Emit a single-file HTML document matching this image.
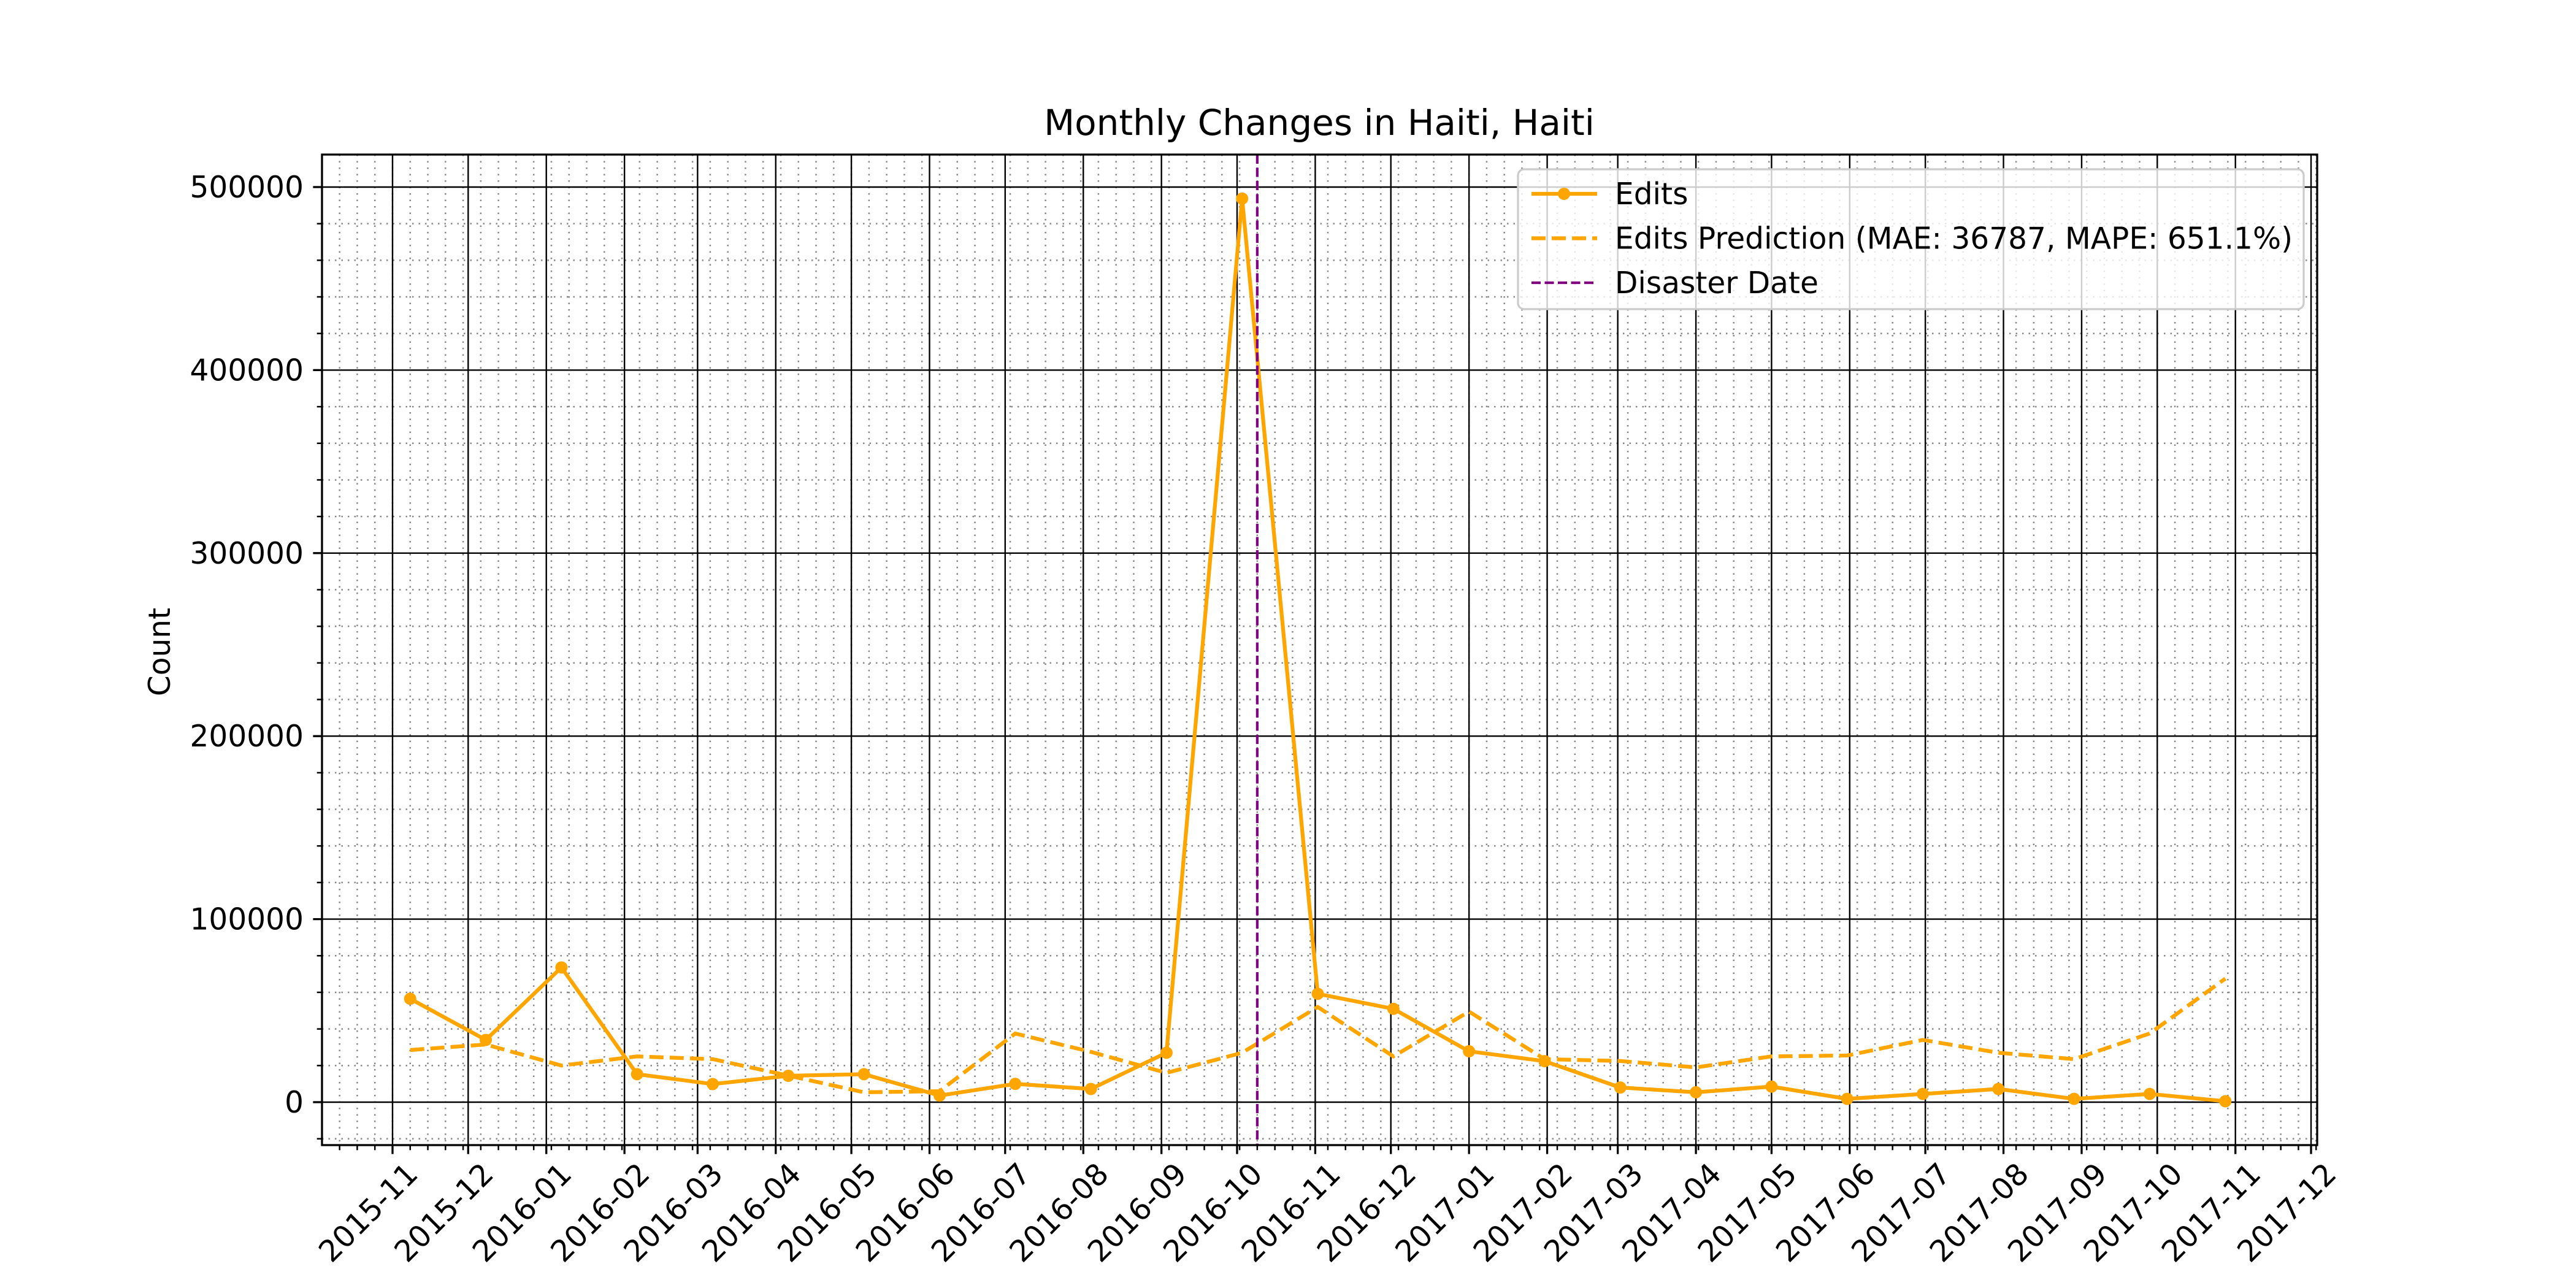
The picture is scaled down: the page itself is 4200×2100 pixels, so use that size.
<!DOCTYPE html>
<html><head><meta charset="utf-8"><style>
html,body{margin:0;padding:0;background:#fff;}
svg{display:block;font-family:"DejaVu Sans","Liberation Sans",sans-serif;}
</style></head><body>
<svg id="chart" width="4200" height="2100" viewBox="0 0 4200 2100" xmlns="http://www.w3.org/2000/svg">
<rect width="4200" height="2100" fill="#fff"/>
<g id="grid"></g>
<g id="series"></g>
<g id="axes"></g>
<text x="2151" y="220" font-size="58" text-anchor="middle">Monthly Changes in Haiti, Haiti</text>
<text x="0" y="0" font-size="48.6" text-anchor="middle" transform="translate(277,1063) rotate(-90)">Count</text>
<g id="legend"></g>
</svg>
<script>
const dates = ["2015-11-08","2015-12-08","2016-01-07","2016-02-06","2016-03-07","2016-04-06","2016-05-06","2016-06-05","2016-07-05","2016-08-04","2016-09-03","2016-10-03","2016-11-02","2016-12-02","2017-01-01","2017-01-31","2017-03-02","2017-04-01","2017-05-01","2017-05-31","2017-06-30","2017-07-30","2017-08-29","2017-09-28","2017-10-28"];
const edits = [56500,34000,73600,15300,9900,14400,15300,3600,10000,7200,27000,493700,59200,51000,27800,22400,8000,5400,8500,1800,4500,7200,1800,4500,500];
const predictions = [28500,31500,20000,25000,23500,14500,5400,6000,37500,27500,16000,27000,52000,25000,49500,23500,22500,19000,25000,25500,34000,27000,23500,37500,67500];
const disasterDate = "2016-10-09";
const xTickLabels = ["2015-11","2015-12","2016-01","2016-02","2016-03","2016-04","2016-05","2016-06","2016-07","2016-08","2016-09","2016-10","2016-11","2016-12","2017-01","2017-02","2017-03","2017-04","2017-05","2017-06","2017-07","2017-08","2017-09","2017-10","2017-11","2017-12"];
const yTickValues = [0,100000,200000,300000,400000,500000];

const NS="http://www.w3.org/2000/svg";
const L=525,R=3778,T=252,B=1867;
const day0=Date.UTC(2015,10,1);
function dayOf(s){const p=s.split("-").map(Number);return (Date.UTC(p[0],p[1]-1,p[2]||1)-day0)/86400000;}
function xS(s){return 640+dayOf(s)*4.1104;}
function yS(v){return 1797-v*0.002984;}
const dMin=(L-640)/4.1104,dMax=(R-640)/4.1104;
function mk(parent,tag,attrs){const e=document.createElementNS(NS,tag);for(const k in attrs)e.setAttribute(k,attrs[k]);parent.appendChild(e);return e;}
const grid=document.getElementById('grid'),axes=document.getElementById('axes'),series=document.getElementById('series'),legend=document.getElementById('legend');

for(let d=Math.ceil(dMin);d<=dMax;d++){
  const dt=new Date(day0+d*86400000);
  if(dt.getUTCDay()!==0)continue;
  const x=640+d*4.1104;
  const g=mk(grid,'line',{x1:x,x2:x,y1:T,y2:B,stroke:'#888',"stroke-width":2.5,"stroke-dasharray":"2.5,8"});
  
  
  const t=mk(axes,'line',{x1:x,x2:x,y1:B,y2:B+8.3,stroke:'#000',"stroke-width":2.5});
  
  
}
for(let v=-20000;v<=520000;v+=20000){
  if(v%100000===0)continue;
  const y=yS(v);if(y<T||y>B)continue;
  const g=mk(grid,'line',{x1:L,x2:R,y1:y,y2:y,stroke:'#888',"stroke-width":2.5,"stroke-dasharray":"2.5,8"});
  
  
  const t=mk(axes,'line',{x1:L-8.3,x2:L,y1:y,y2:y,stroke:'#000',"stroke-width":2.5});
  
  
}
xTickLabels.forEach(lbl=>{
  const x=xS(lbl+"-01");
  const g=mk(grid,'line',{x1:x,x2:x,y1:T,y2:B,stroke:'#000',"stroke-width":2.4});
  
  
  const t=mk(axes,'line',{x1:x,x2:x,y1:B,y2:B+14.6,stroke:'#000',"stroke-width":3.3});
  
  
  const tx=mk(axes,'text',{x:0,y:0,"font-size":48.6,"text-anchor":"end",transform:`translate(${x+44},${B+50}) rotate(-45)`});
  tx.textContent=lbl;
  
  
});
yTickValues.forEach(v=>{
  const y=yS(v);
  const g=mk(grid,'line',{x1:L,x2:R,y1:y,y2:y,stroke:'#000',"stroke-width":2.4});
  
  
  const t=mk(axes,'line',{x1:L-14.6,x2:L,y1:y,y2:y,stroke:'#000',"stroke-width":3.3});
  
  
  const tx=mk(axes,'text',{x:L-30,y:y+17,"font-size":48.6,"text-anchor":"end"});
  tx.textContent=String(v);
  
  
});
const spine=mk(axes,'rect',{x:L,y:T,width:R-L,height:B-T,fill:'none',stroke:'#000',"stroke-width":3.3});



const pp=mk(series,'polyline',{points:dates.map((d,i)=>xS(d)+","+yS(predictions[i])).join(" "),fill:'none',stroke:'#FFA500',"stroke-width":6.25,"stroke-dasharray":"23,10"});


const ep=mk(series,'polyline',{points:dates.map((d,i)=>xS(d)+","+yS(edits[i])).join(" "),fill:'none',stroke:'#FFA500',"stroke-width":6.25,"stroke-linejoin":"round"});


dates.forEach((d,i)=>{
  const c=mk(series,'circle',{cx:xS(d),cy:yS(edits[i]),r:10,fill:'#FFA500'});
  
  
});
const dl=mk(series,'line',{x1:xS(disasterDate),x2:xS(disasterDate),y1:T,y2:B,stroke:'#800080',"stroke-width":4.2,"stroke-dasharray":"15,6.5"});



const lb=mk(legend,'rect',{x:2475,y:276,width:1281,height:228,rx:10,fill:'#fff',"fill-opacity":0.8,stroke:'#ccc',"stroke-width":3.3});


const entries=[["Edits",'#FFA500',"",true],["Edits Prediction (MAE: 36787, MAPE: 651.1%)",'#FFA500',"23,10",false],["Disaster Date",'#800080',"15,6.5",false]];
entries.forEach((e,i)=>{
  const y=316+i*72.5;
  const g=mk(legend,'g',{});
  
  
  mk(g,'line',{x1:2497,x2:2604,y1:y,y2:y,stroke:e[1],"stroke-width":e[1]==='#800080'?4.2:6.25,"stroke-dasharray":e[2]});
  if(e[3])mk(g,'circle',{cx:2550,cy:y,r:10,fill:e[1]});
  const t=mk(g,'text',{x:2633,y:y+17,"font-size":48.6});
  t.textContent=e[0];
});
</script>
</body></html>
